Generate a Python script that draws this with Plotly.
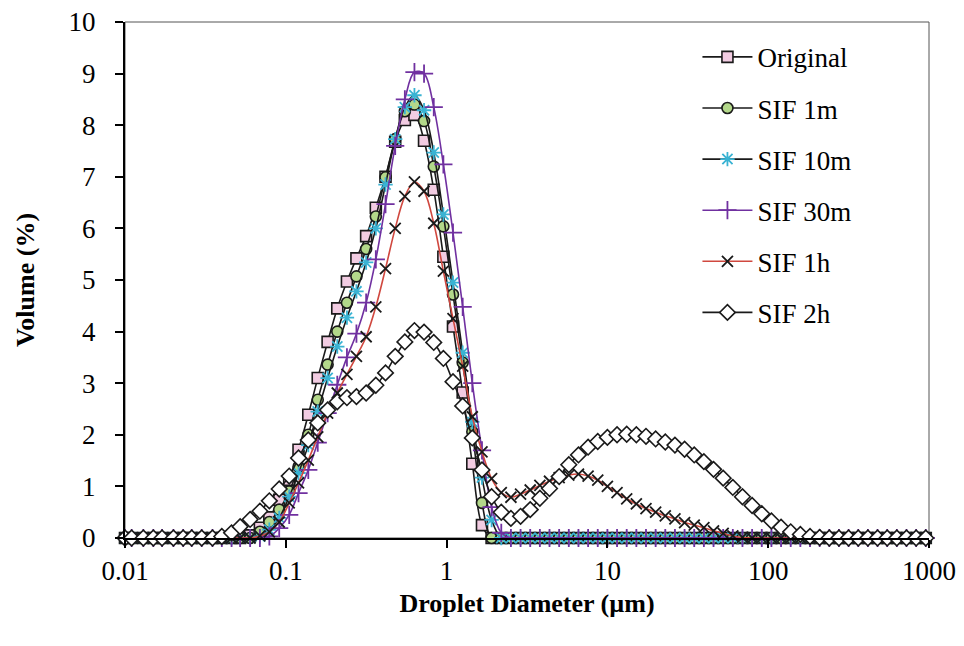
import plotly.graph_objects as go

# Size classes (µm) of the particle-size analyser
diameter_um = [0.010, 0.011, 0.013, 0.015, 0.017, 0.020, 0.023, 0.026, 0.030, 0.035,
               0.040, 0.046, 0.052, 0.060, 0.069, 0.079, 0.091, 0.105, 0.120, 0.138,
               0.158, 0.182, 0.209, 0.240, 0.275, 0.316, 0.363, 0.417, 0.479, 0.550,
               0.631, 0.724, 0.832, 0.955, 1.096, 1.259, 1.445, 1.660, 1.905, 2.188,
               2.512, 2.884, 3.311, 3.802, 4.365, 5.012, 5.754, 6.607, 7.586, 8.710,
               10.000, 11.482, 13.183, 15.136, 17.378, 19.953, 22.909, 26.303, 30.200, 34.674,
               39.811, 45.709, 52.481, 60.256, 69.183, 79.433, 91.201, 104.713, 120.226, 138.038,
               158.489, 181.970, 208.930, 239.883, 275.423, 316.228, 363.078, 416.869, 478.630, 549.541,
               630.957, 724.436, 831.764, 954.993]

original = [0, 0, 0, 0, 0, 0, 0, 0, 0, 0,
            0, 0, 0, 0.05, 0.2, 0.4, 0.74, 1.13, 1.71, 2.39,
            3.1, 3.8, 4.45, 4.97, 5.42, 5.85, 6.4, 7.0, 7.68, 8.1,
            8.2, 7.7, 6.75, 5.45, 4.1, 2.82, 1.44, 0.25, 0, 0,
            0, 0, 0, 0, 0, 0, 0, 0, 0, 0,
            0, 0, 0, 0, 0, 0, 0, 0, 0, 0,
            0, 0, 0, 0, 0, 0, 0, 0, 0, 0,
            0, 0, 0, 0, 0, 0, 0, 0, 0, 0,
            0, 0, 0, 0]

sif_1m = [0, 0, 0, 0, 0, 0, 0, 0, 0, 0,
          0, 0, 0, 0, 0.12, 0.31, 0.55, 0.9, 1.38, 2.0,
          2.68, 3.36, 4.0, 4.56, 5.07, 5.6, 6.23, 6.99, 7.73, 8.27,
          8.4, 8.08, 7.2, 6.04, 4.72, 3.4, 2.06, 0.68, 0, 0,
          0, 0, 0, 0, 0, 0, 0, 0, 0, 0,
          0, 0, 0, 0, 0, 0, 0, 0, 0, 0,
          0, 0, 0, 0, 0, 0, 0, 0, 0, 0,
          0, 0, 0, 0, 0, 0, 0, 0, 0, 0,
          0, 0, 0, 0]

sif_10m = [0, 0, 0, 0, 0, 0, 0, 0, 0, 0,
           0, 0, 0, 0, 0.03, 0.16, 0.39, 0.8, 1.26, 1.8,
           2.45, 3.1, 3.71, 4.27, 4.78, 5.34, 6.0, 6.85, 7.73, 8.35,
           8.58, 8.29, 7.47, 6.27, 4.95, 3.59, 2.25, 1.17, 0.35, 0,
           0, 0, 0, 0, 0, 0, 0, 0, 0, 0,
           0, 0, 0, 0, 0, 0, 0, 0, 0, 0,
           0, 0, 0, 0, 0, 0, 0, 0, 0, 0,
           0, 0, 0, 0, 0, 0, 0, 0, 0, 0,
           0, 0, 0, 0]

sif_30m = [0, 0, 0, 0, 0, 0, 0, 0, 0, 0,
           0, 0, 0, 0, 0, 0.03, 0.19, 0.45, 0.87, 1.32,
           1.85, 2.42, 2.97, 3.5, 3.96, 4.56, 5.4, 6.47, 7.6, 8.5,
           9.03, 9.0, 8.35, 7.24, 5.92, 4.48, 3.0, 1.7, 0.6, 0.1,
           0, 0, 0, 0, 0, 0, 0, 0, 0, 0,
           0, 0, 0, 0, 0, 0, 0, 0, 0, 0,
           0, 0, 0, 0, 0, 0, 0, 0, 0, 0,
           0, 0, 0, 0, 0, 0, 0, 0, 0, 0,
           0, 0, 0, 0]

sif_1h = [0, 0, 0, 0, 0, 0, 0, 0, 0, 0,
          0, 0, 0, 0, 0.04, 0.12, 0.31, 0.68, 1.07, 1.51,
          1.96, 2.42, 2.81, 3.17, 3.52, 3.9, 4.48, 5.22, 6.0, 6.62,
          6.9, 6.72, 6.1, 5.17, 4.25, 3.33, 2.35, 1.67, 1.15, 0.88,
          0.79, 0.85, 0.93, 1.02, 1.1, 1.17, 1.22, 1.24, 1.2, 1.12,
          1.0, 0.88, 0.76, 0.66, 0.57, 0.5, 0.43, 0.37, 0.3, 0.25,
          0.2, 0.14, 0.09, 0.04, 0.01, 0, 0, 0, 0, 0,
          0, 0, 0, 0, 0, 0, 0, 0, 0, 0,
          0, 0, 0, 0]

sif_2h = [0, 0, 0, 0, 0, 0, 0, 0, 0, 0,
          0.03, 0.1, 0.22, 0.36, 0.52, 0.72, 0.95, 1.2, 1.55, 1.9,
          2.23, 2.48, 2.64, 2.72, 2.74, 2.81, 2.96, 3.2, 3.52, 3.8,
          4.02, 3.99, 3.79, 3.48, 3.03, 2.56, 1.94, 1.32, 0.8, 0.5,
          0.38, 0.42, 0.55, 0.77, 0.96, 1.19, 1.42, 1.61, 1.76, 1.87,
          1.95, 2.0, 2.01, 2.0, 1.97, 1.92, 1.86, 1.8, 1.72, 1.61,
          1.48, 1.33, 1.16, 0.98, 0.8, 0.63, 0.47, 0.33, 0.21, 0.12,
          0.07, 0.03, 0.01, 0, 0, 0, 0, 0, 0, 0,
          0, 0, 0, 0]

x_tick_vals = [0.01, 0.1, 1, 10, 100, 1000]
x_tick_text = ["0.01", "0.1", "1", "10", "100", "1000"]
y_tick_vals = [0, 1, 2, 3, 4, 5, 6, 7, 8, 9, 10]

series = [
    ("Original", original, dict(symbol="square", size=11, color="#F2CCE2",
                                line=dict(color="#1a1a1a", width=1.6)), "#1a1a1a"),
    ("SIF 1m", sif_1m, dict(symbol="circle", size=11, color="#B3D88A",
                            line=dict(color="#1a1a1a", width=1.6)), "#1a1a1a"),
    ("SIF 10m", sif_10m, dict(symbol="asterisk-open", size=12, color="#3AB3D3",
                              line=dict(width=1.8)), "#1a1a1a"),
    ("SIF 30m", sif_30m, dict(symbol="cross-thin-open", size=13, color="#7030A0",
                              line=dict(width=1.8)), "#7030A0"),
    ("SIF 1h", sif_1h, dict(symbol="x-thin-open", size=11, color="#1a1a1a",
                            line=dict(width=1.8)), "#D0483F"),
    ("SIF 2h", sif_2h, dict(symbol="diamond", size=12, color="white",
                            line=dict(color="#1a1a1a", width=1.6)), "#1a1a1a"),
]

fig = go.Figure()
for name, vals, marker, lcolor in series:
    fig.add_trace(go.Scatter(
        x=diameter_um, y=vals, name=name, mode="lines+markers",
        line=dict(color=lcolor, width=1.6, shape="spline", smoothing=1.0),
        marker=marker, cliponaxis=False, legendgroup=name,
    ))

SERIF = "Liberation Serif"

fig.update_layout(
    width=964, height=646,
    margin=dict(l=117, r=43, t=14, b=116, autoexpand=False),
    paper_bgcolor="white", plot_bgcolor="white",
    font=dict(family=SERIF, size=27, color="black"),
    showlegend=True,
    legend=dict(x=0.712, y=0.979, xanchor="left", yanchor="top",
                font=dict(family=SERIF, size=27, color="black"),
                bgcolor="rgba(0,0,0,0)", tracegroupgap=13, itemwidth=50),
    xaxis=dict(type="log", range=[-2, 3], tickvals=x_tick_vals, ticktext=x_tick_text,
               automargin=False,
               showgrid=False, zeroline=False, showline=True, linecolor="black", linewidth=2,
               ticks="outside", ticklen=8, tickwidth=1.5, tickcolor="black",
               ticklabeloverflow="allow",
               tickfont=dict(family=SERIF, size=27, color="black"),
               title=dict(text="<b>Droplet Diameter (µm)</b>", standoff=8,
                          font=dict(family=SERIF, size=26, color="black"))),
    yaxis=dict(range=[0, 10], tickvals=y_tick_vals,
               automargin=False,
               showgrid=False, zeroline=False, showline=True, linecolor="black", linewidth=2,
               ticks="outside", ticklen=8, tickwidth=1.5, tickcolor="black",
               ticklabeloverflow="allow",
               tickfont=dict(family=SERIF, size=27, color="black"), ticklabelstandoff=14,
               title=dict(text="<b>Volume (%)</b>", standoff=26,
                          font=dict(family=SERIF, size=26, color="black"))),
    shapes=[dict(type="rect", xref="paper", yref="paper", x0=0, y0=0, x1=1, y1=1,
                 line=dict(color="#555555", width=1), layer="below")],
)

fig.write_html("out.html")
